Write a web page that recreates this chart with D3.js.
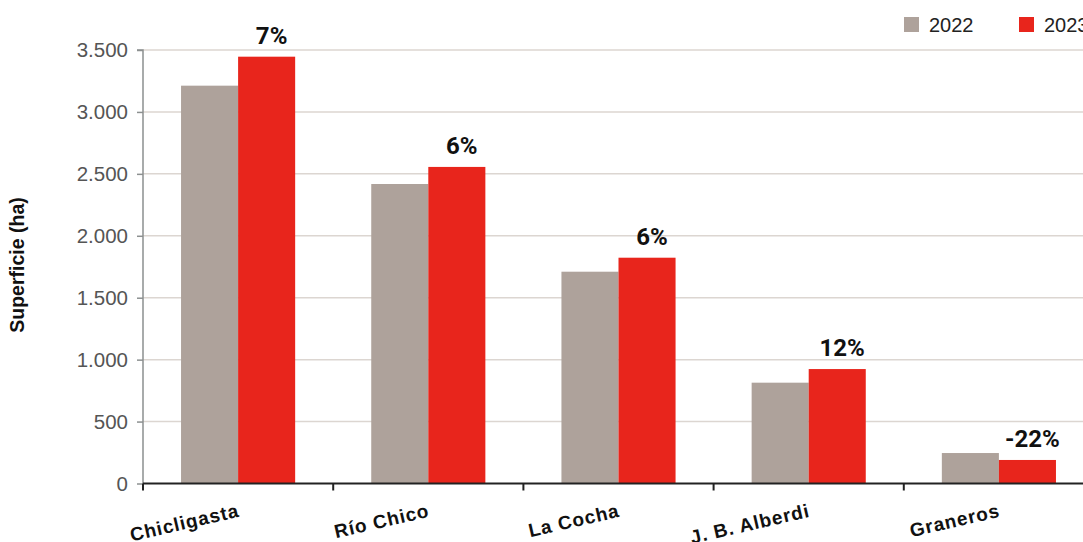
<!DOCTYPE html>
<html>
<head>
<meta charset="utf-8">
<script src="https://cdn.jsdelivr.net/npm/d3@7"></script>
<style>
html,body{margin:0;padding:0;background:#fff;}
svg{display:block;}
</style>
</head>
<body>
<svg id="chart" width="1083" height="542"></svg>
<script>
const categories = ["Chicligasta", "Río Chico", "La Cocha", "J. B. Alberdi", "Graneros"];
const seriesNames = ["2022", "2023"];
const values2022 = [3212, 2418, 1710, 814, 246];
const values2023 = [3446, 2556, 1823, 924, 190];
const changeLabels = ["7%", "6%", "6%", "12%", "-22%"];
const yTicks = [0, 500, 1000, 1500, 2000, 2500, 3000, 3500];
const yTitle = "Superficie (ha)";

(function () {
const colors = {"2022": "#aea29b", "2023": "#e8251c"};
const svg = d3.select("#chart");
const mLeft = 143, mRight = 1094, mTop = 50, mBottom = 483.5;

const x0 = d3.scaleBand().domain(categories).range([mLeft, mRight]).paddingInner(0.4).paddingOuter(0.2);
const x1 = d3.scaleBand().domain(seriesNames).range([0, x0.bandwidth()]);
const y = d3.scaleLinear().domain([0, 3500]).range([mBottom, mTop]);
const fmt = d3.formatLocale({decimal: ",", thousands: ".", grouping: [3], currency: ["", ""]}).format(",d");

// gridlines
svg.append("g").selectAll("line").data(yTicks.filter(d => d > 0)).join("line")
  .attr("x1", mLeft).attr("x2", 1083)
  .attr("y1", d => y(d)).attr("y2", d => y(d))
  .attr("stroke", "#dcd6d1").attr("stroke-width", 1.5);

// y axis
const yAxis = svg.append("g").attr("transform", `translate(${mLeft},0)`)
  .call(d3.axisLeft(y).tickValues(yTicks).tickFormat(fmt).tickSize(6).tickPadding(9));
yAxis.select(".domain").attr("stroke", "#8c9090").attr("stroke-width", 1.5).attr("d", `M-6,${y(3500)}H0V${mBottom}`);
yAxis.selectAll(".tick line").attr("stroke", "#8c9090").attr("stroke-width", 1.5);
yAxis.selectAll(".tick text").attr("fill", "#555").style("font-family", "'Liberation Sans', Arial, sans-serif").style("font-size", "20.5px");

// bars
const rows = categories.map((c, i) => ({cat: c, vals: [{k: "2022", v: values2022[i]}, {k: "2023", v: values2023[i]}], label: changeLabels[i]}));
const groups = svg.append("g").selectAll("g").data(rows).join("g")
  .attr("transform", d => `translate(${x0(d.cat)},0)`);
groups.selectAll("rect").data(d => d.vals).join("rect")
  .attr("x", d => x1(d.k)).attr("width", x1.bandwidth())
  .attr("y", d => y(d.v)).attr("height", d => y(0) - y(d.v))
  .attr("fill", d => colors[d.k]);

// change labels
groups.append("text")
  .attr("x", x1("2023") + x1.bandwidth() / 2 + 5)
  .attr("y", d => y(d.vals[1].v) - 13)
  .attr("text-anchor", "middle")
  .attr("fill", "#111")
  .style("font-family", "Roboto, 'Liberation Sans', sans-serif")
  .style("font-weight", "700")
  .style("font-size", "24px")
  .text(d => d.label);

// x axis
const step = x0.step();
const xg = svg.append("g");
xg.append("line").attr("x1", mLeft).attr("x2", 1083).attr("y1", mBottom).attr("y2", mBottom)
  .attr("stroke", "#222").attr("stroke-width", 2);
xg.selectAll("line.tk").data(d3.range(categories.length + 1)).join("line").attr("class", "tk")
  .attr("x1", i => mLeft + i * step).attr("x2", i => mLeft + i * step)
  .attr("y1", mBottom).attr("y2", mBottom + 7)
  .attr("stroke", "#222").attr("stroke-width", 2);
xg.selectAll("text").data(categories).join("text")
  .attr("transform", d => `translate(${x0(d) + x0.bandwidth() / 2 + 2},${mBottom + 33}) rotate(-13)`)
  .attr("text-anchor", "end")
  .attr("fill", "#111")
  .style("font-family", "'Liberation Sans', Arial, sans-serif")
  .style("font-weight", "700")
  .style("font-size", "19px")
  .style("letter-spacing", "0.9px")
  .text(d => d);

// y title
svg.append("text")
  .attr("transform", `translate(24,265) rotate(-90)`)
  .attr("text-anchor", "middle")
  .attr("fill", "#111")
  .style("font-family", "'Liberation Sans', Arial, sans-serif")
  .style("font-weight", "700")
  .style("font-size", "19.5px")
  .text(yTitle);

// legend
const lg = svg.append("g").selectAll("g").data(seriesNames).join("g")
  .attr("transform", (d, i) => `translate(${904 + i * 115},17)`);
lg.append("rect").attr("width", 15).attr("height", 15).attr("fill", d => colors[d]);
lg.append("text").attr("x", 25).attr("y", 14.5)
  .attr("fill", "#222")
  .style("font-family", "'Liberation Sans', Arial, sans-serif")
  .style("font-size", "20px")
  .text(d => d);
})();
</script>
</body>
</html>
